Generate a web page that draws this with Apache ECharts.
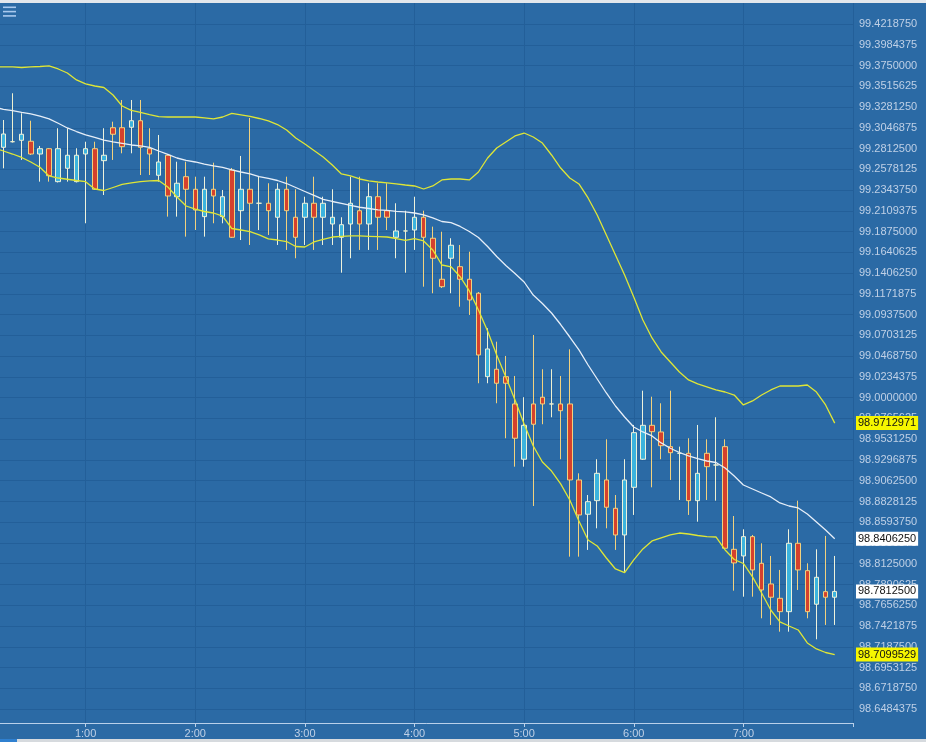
<!DOCTYPE html>
<html><head><meta charset="utf-8">
<script src="https://cdn.jsdelivr.net/npm/echarts@6/dist/echarts.min.js"></script>
<style>html,body{margin:0;padding:0;background:#2b6aa5;}#chart{width:926px;height:742px;}</style>
</head><body><div id="chart"></div><script>
// time labels (5-minute bars); bands start one bar earlier than candles
const times = ['0:10','0:15','0:20','0:25','0:30','0:35','0:40','0:45','0:50','0:55',
'1:00','1:05','1:10','1:15','1:20','1:25','1:30','1:35','1:40','1:45','1:50','1:55',
'2:00','2:05','2:10','2:15','2:20','2:25','2:30','2:35','2:40','2:45','2:50','2:55',
'3:00','3:05','3:10','3:15','3:20','3:25','3:30','3:35','3:40','3:45','3:50','3:55',
'4:00','4:05','4:10','4:15','4:20','4:25','4:30','4:35','4:40','4:45','4:50','4:55',
'5:00','5:05','5:10','5:15','5:20','5:25','5:30','5:35','5:40','5:45','5:50','5:55',
'6:00','6:05','6:10','6:15','6:20','6:25','6:30','6:35','6:40','6:45','6:50','6:55',
'7:00','7:05','7:10','7:15','7:20','7:25','7:30','7:35','7:40','7:45','7:50'];

// [open, close, low, high] for 0:15 .. 7:50
const candles = [
[99.2827,99.2977,99.2590,99.3135],[99.2890,99.2890,99.2881,99.3437],[99.2906,99.2974,99.2684,99.3211],[99.2895,99.2751,99.2740,99.3127],
[99.2751,99.2811,99.2439,99.2842],[99.2811,99.2506,99.2439,99.2819],[99.2439,99.2811,99.2430,99.3042],[99.2590,99.2737,99.2439,99.3042],
[99.2439,99.2737,99.2430,99.2816],[99.2751,99.2811,99.1969,99.2890],[99.2811,99.2353,99.2345,99.2890],[99.2676,99.2737,99.2288,99.3042],
[99.3048,99.2974,99.2684,99.3116],[99.3048,99.2834,99.2759,99.3361],[99.3053,99.3127,99.2759,99.3361],[99.3127,99.2827,99.2514,99.3361],
[99.2811,99.2751,99.2514,99.3042],[99.2511,99.2661,99.2439,99.2966],[99.2737,99.2277,99.2044,99.2751],[99.2269,99.2421,99.2044,99.2664],
[99.2495,99.2353,99.1818,99.2664],[99.2353,99.2119,99.1893,99.2495],[99.2044,99.2353,99.1818,99.2495],[99.2353,99.2277,99.1969,99.2653],
[99.2044,99.2269,99.1969,99.2345],[99.2571,99.1811,99.1803,99.2593],[99.2111,99.2353,99.1780,99.2729],[99.2353,99.2195,99.1724,99.3158],
[99.2195,99.2195,99.1893,99.2495],[99.2195,99.2111,99.1837,99.2421],[99.2037,99.2353,99.1724,99.2421],[99.2353,99.2111,99.1668,99.2495],
[99.2037,99.1811,99.1574,99.2353],[99.2037,99.2195,99.1724,99.2269],[99.2195,99.2037,99.1668,99.2495],[99.2037,99.2195,99.1724,99.2269],
[99.1961,99.2037,99.1724,99.2353],[99.1811,99.1953,99.1411,99.2037],[99.1961,99.2195,99.1574,99.2495],[99.2111,99.1961,99.1668,99.2495],
[99.1961,99.2269,99.1668,99.2421],[99.2269,99.2037,99.1668,99.2421],[99.2111,99.2037,99.1893,99.2421],[99.1811,99.1882,99.1574,99.2195],
[99.1882,99.1882,99.1411,99.2111],[99.1893,99.2037,99.1668,99.2269],[99.2037,99.1811,99.1253,99.2111],[99.1800,99.1574,99.1179,99.1931],
[99.1337,99.1253,99.1238,99.1874],[99.1574,99.1721,99.1179,99.1800],[99.1479,99.1337,99.1027,99.1724],[99.1337,99.1103,99.0934,99.1648],
[99.1179,99.0482,99.0163,99.1193],[99.0237,99.0550,99.0163,99.0784],[99.0321,99.0163,98.9937,99.0632],[99.0237,99.0163,98.9542,99.0471],
[98.9929,98.9542,98.9221,99.0245],[98.9305,98.9688,98.9221,99.0005],[98.9929,98.9700,98.8777,99.0708],[99.0005,98.9929,98.9700,99.0321],
[98.9929,98.9929,98.9779,99.0321],[98.9929,98.9853,98.9305,99.0245],[98.9929,98.9071,98.8205,99.0546],[98.9071,98.8676,98.8205,98.9146],
[98.8684,98.8826,98.8281,98.8901],[98.8837,98.9146,98.8525,98.9305],[98.9071,98.8763,98.8525,98.9530],[98.8751,98.8450,98.8281,98.8901],
[98.8450,98.9071,98.8035,98.9305],[98.8988,98.9605,98.8676,98.9692],[98.9305,98.9688,98.9297,99.0079],[98.9688,98.9616,98.8988,99.0011],
[98.9613,98.9458,98.9305,98.9937],[98.9447,98.9379,98.9071,99.0079],[98.9372,98.9372,98.8845,98.9447],[98.9372,98.8837,98.8676,98.9542],
[98.8837,98.9146,98.8600,98.9692],[98.9372,98.9221,98.8845,98.9530],[98.9240,98.9240,98.8837,98.9779],[98.9447,98.8300,98.8288,98.9530],
[98.8288,98.8134,98.7821,98.8664],[98.8213,98.8431,98.7753,98.8514],[98.8431,98.8055,98.7753,98.8450],[98.8130,98.7829,98.7509,98.8356],
[98.7897,98.7747,98.7434,98.8213],[98.7735,98.7584,98.7358,98.8055],[98.7584,98.8356,98.7358,98.8514],[98.8356,98.8055,98.7829,98.8837],
[98.8047,98.7584,98.7509,98.8130],[98.7668,98.7972,98.7272,98.8288],[98.7810,98.7747,98.7434,98.8439],[98.7747,98.78125,98.7434,98.8213]
];

// Bollinger bands, 0:10 .. 7:50
const upperBand = [
99.3734,99.3734,99.3734,99.3728,99.3734,99.3739,99.3745,99.3711,99.3666,99.3587,
99.3542,99.3519,99.3502,99.3417,99.3293,99.3243,99.3222,99.3197,99.3173,99.3169,
99.3169,99.3169,99.3169,99.3158,99.3147,99.3169,99.3209,99.3192,99.3175,99.3152,
99.3124,99.3084,99.3022,99.2932,99.2864,99.2791,99.2718,99.2627,99.2526,99.2503,
99.2469,99.2447,99.2435,99.2424,99.2413,99.2401,99.2390,99.2356,99.2390,99.2458,
99.2469,99.2469,99.2458,99.2548,99.2706,99.2819,99.2887,99.2955,99.2988,99.2943,
99.2875,99.2740,99.2593,99.2480,99.2413,99.2255,99.2063,99.1837,99.1611,99.1385,
99.1137,99.0877,99.0674,99.0516,99.0403,99.0290,99.0200,99.0155,99.0121,99.0087,
99.0064,99.0030,98.9918,98.9963,99.0030,99.0087,99.0132,99.0132,99.0132,99.0143,
99.0064,98.9918,98.9712971];
const middleBand = [
99.3282,99.3254,99.3240,99.3220,99.3203,99.3180,99.3147,99.3098,99.3045,99.3005,
99.2966,99.2938,99.2909,99.2887,99.2870,99.2853,99.2842,99.2825,99.2785,99.2746,
99.2706,99.2678,99.2661,99.2638,99.2616,99.2599,99.2571,99.2548,99.2526,99.2497,
99.2475,99.2452,99.2418,99.2373,99.2328,99.2283,99.2238,99.2215,99.2193,99.2170,
99.2150,99.2136,99.2121,99.2114,99.2104,99.2097,99.2085,99.2063,99.2029,99.1989,
99.1976,99.1933,99.1876,99.1809,99.1707,99.1594,99.1493,99.1402,99.1306,99.1159,
99.1064,99.0956,99.0826,99.0685,99.0539,99.0369,99.0211,99.0053,98.9906,98.9782,
98.9669,98.9613,98.9568,98.9489,98.9429,98.9381,98.9342,98.9311,98.9285,98.9268,
98.9206,98.9116,98.9014,98.8969,98.8924,98.8879,98.8811,98.8777,98.8755,98.8687,
98.8597,98.8506,98.840625];
const lowerBand = [
99.2819,99.2785,99.2751,99.2712,99.2661,99.2601,99.2503,99.2480,99.2466,99.2452,
99.2439,99.2356,99.2339,99.2373,99.2407,99.2424,99.2439,99.2447,99.2452,99.2379,
99.2266,99.2164,99.2130,99.2102,99.2085,99.2051,99.1910,99.1893,99.1874,99.1837,
99.1792,99.1780,99.1763,99.1707,99.1701,99.1758,99.1786,99.1814,99.1822,99.1826,
99.1826,99.1822,99.1818,99.1814,99.1797,99.1775,99.1797,99.1769,99.1668,99.1498,
99.1478,99.1366,99.1205,99.0990,99.0753,99.0482,99.0234,98.9974,98.9703,98.9455,
98.9274,98.9172,98.9026,98.8845,98.8608,98.8393,98.8326,98.8190,98.8066,98.8024,
98.8168,98.8292,98.8382,98.8416,98.8450,98.8472,98.8461,98.8444,98.8431,98.8427,
98.8281,98.8173,98.8128,98.7976,98.7795,98.7603,98.7468,98.7422,98.7377,98.7231,
98.7163,98.7123,98.7099529];

// right-axis tick values
const yTicks = [98.6484375,98.671875,98.6953125,98.71875,98.7421875,98.765625,98.7890625,98.8125,
98.8359375,98.859375,98.8828125,98.90625,98.9296875,98.953125,98.9765625,99.0,99.0234375,99.046875,
99.0703125,99.09375,99.1171875,99.140625,99.1640625,99.1875,99.2109375,99.234375,99.2578125,99.28125,
99.3046875,99.328125,99.3515625,99.375,99.3984375,99.421875];

function toMin(t){const p=t.split(':');return (+p[0])*60+(+p[1]);}
const candleData = candles.map((c,i)=>[toMin(times[i+1]),c[0],c[1],c[2],c[3]]);
const upData = upperBand.map((v,i)=>[toMin(times[i]),v]);
const midData = middleBand.map((v,i)=>[toMin(times[i]),v]);
const lowData = lowerBand.map((v,i)=>[toMin(times[i]),v]);
const lastClose = candles[candles.length-1][1];

const axisCol = '#b9d0ea', labelCol = '#bfd0e6', gridCol = '#235f99';
const font = 'Liberation Sans, Arial, sans-serif';
function tag(bg, value){
  return {symbol:['none','none'], silent:true, animation:false, z:10, precision:7,
    lineStyle:{width:0, color:'rgba(0,0,0,0)', opacity:1},
    label:{show:true, position:'end', distance:3, opacity:1,
      formatter:()=>value.toFixed(7),
      backgroundColor:bg, color:'#111', padding:[2,2,1,2], fontSize:11, fontFamily:font},
    data:[{yAxis:value}]};
}

const chart = echarts.init(document.getElementById('chart'), null, {renderer:'canvas'});
chart.setOption({
  animation:false,
  backgroundColor:'#2b6aa5',
  grid:{left:-24, right:73, top:3, bottom:19, containLabel:false, outerBoundsMode:'none'},
  xAxis:{type:'value', min:0, max:480, interval:60,
    axisLine:{lineStyle:{color:axisCol,width:1}},
    axisTick:{show:true,length:4,lineStyle:{color:axisCol}},
    axisLabel:{color:labelCol,fontSize:11,fontFamily:font,margin:5,
      formatter:v=>(v>0&&v<480)?(v/60)+':00':''},
    splitLine:{show:true,lineStyle:{color:gridCol,width:1}}},
  yAxis:{type:'value', position:'right', min:98.6327, max:99.4456,
    axisLine:{show:true,lineStyle:{color:axisCol,width:1}},
    axisTick:{show:true,length:3,customValues:yTicks,lineStyle:{color:axisCol}},
    axisLabel:{customValues:yTicks,color:labelCol,fontSize:11,fontFamily:font,margin:6,
      formatter:v=>Number(v).toFixed(7)},
    splitLine:{show:true,lineStyle:{color:gridCol,width:1}}},
  series:[
    {type:'candlestick', data:candleData, barWidth:5,
     itemStyle:{color:'#3cb4de', color0:'#d5412d', borderColor:'#eef2dc', borderColor0:'#f2d27e', borderColorDoji:'#eef0d0', borderWidth:1},
     markLine:tag('#ffffff', lastClose)},
    {type:'line', data:upData, showSymbol:false, lineStyle:{color:'#dfe636',width:1.3},
     markLine:tag('#f6f600', upperBand[upperBand.length-1])},
    {type:'line', data:midData, showSymbol:false, lineStyle:{color:'#e6eef8',width:1.3},
     markLine:tag('#ffffff', middleBand[middleBand.length-1])},
    {type:'line', data:lowData, showSymbol:false, lineStyle:{color:'#dfe636',width:1.3},
     markLine:tag('#f6f600', lowerBand[lowerBand.length-1])}
  ],
  graphic:[
    {type:'rect',shape:{x:0,y:0,width:926,height:3},style:{fill:'#e3e7ec'},silent:true},
    {type:'rect',shape:{x:0,y:739,width:926,height:3},style:{fill:'#d6dade'},silent:true},
    {type:'rect',shape:{x:0,y:739,width:17,height:3},style:{fill:'#2f80d0'},silent:true},
    {type:'rect',shape:{x:3,y:6.5,width:13,height:1.6},style:{fill:'#a9c9ee'},silent:true},
    {type:'rect',shape:{x:3,y:10.8,width:13,height:1.6},style:{fill:'#a9c9ee'},silent:true},
    {type:'rect',shape:{x:3,y:15.1,width:13,height:1.6},style:{fill:'#a9c9ee'},silent:true}
  ]
});
</script></body></html>
